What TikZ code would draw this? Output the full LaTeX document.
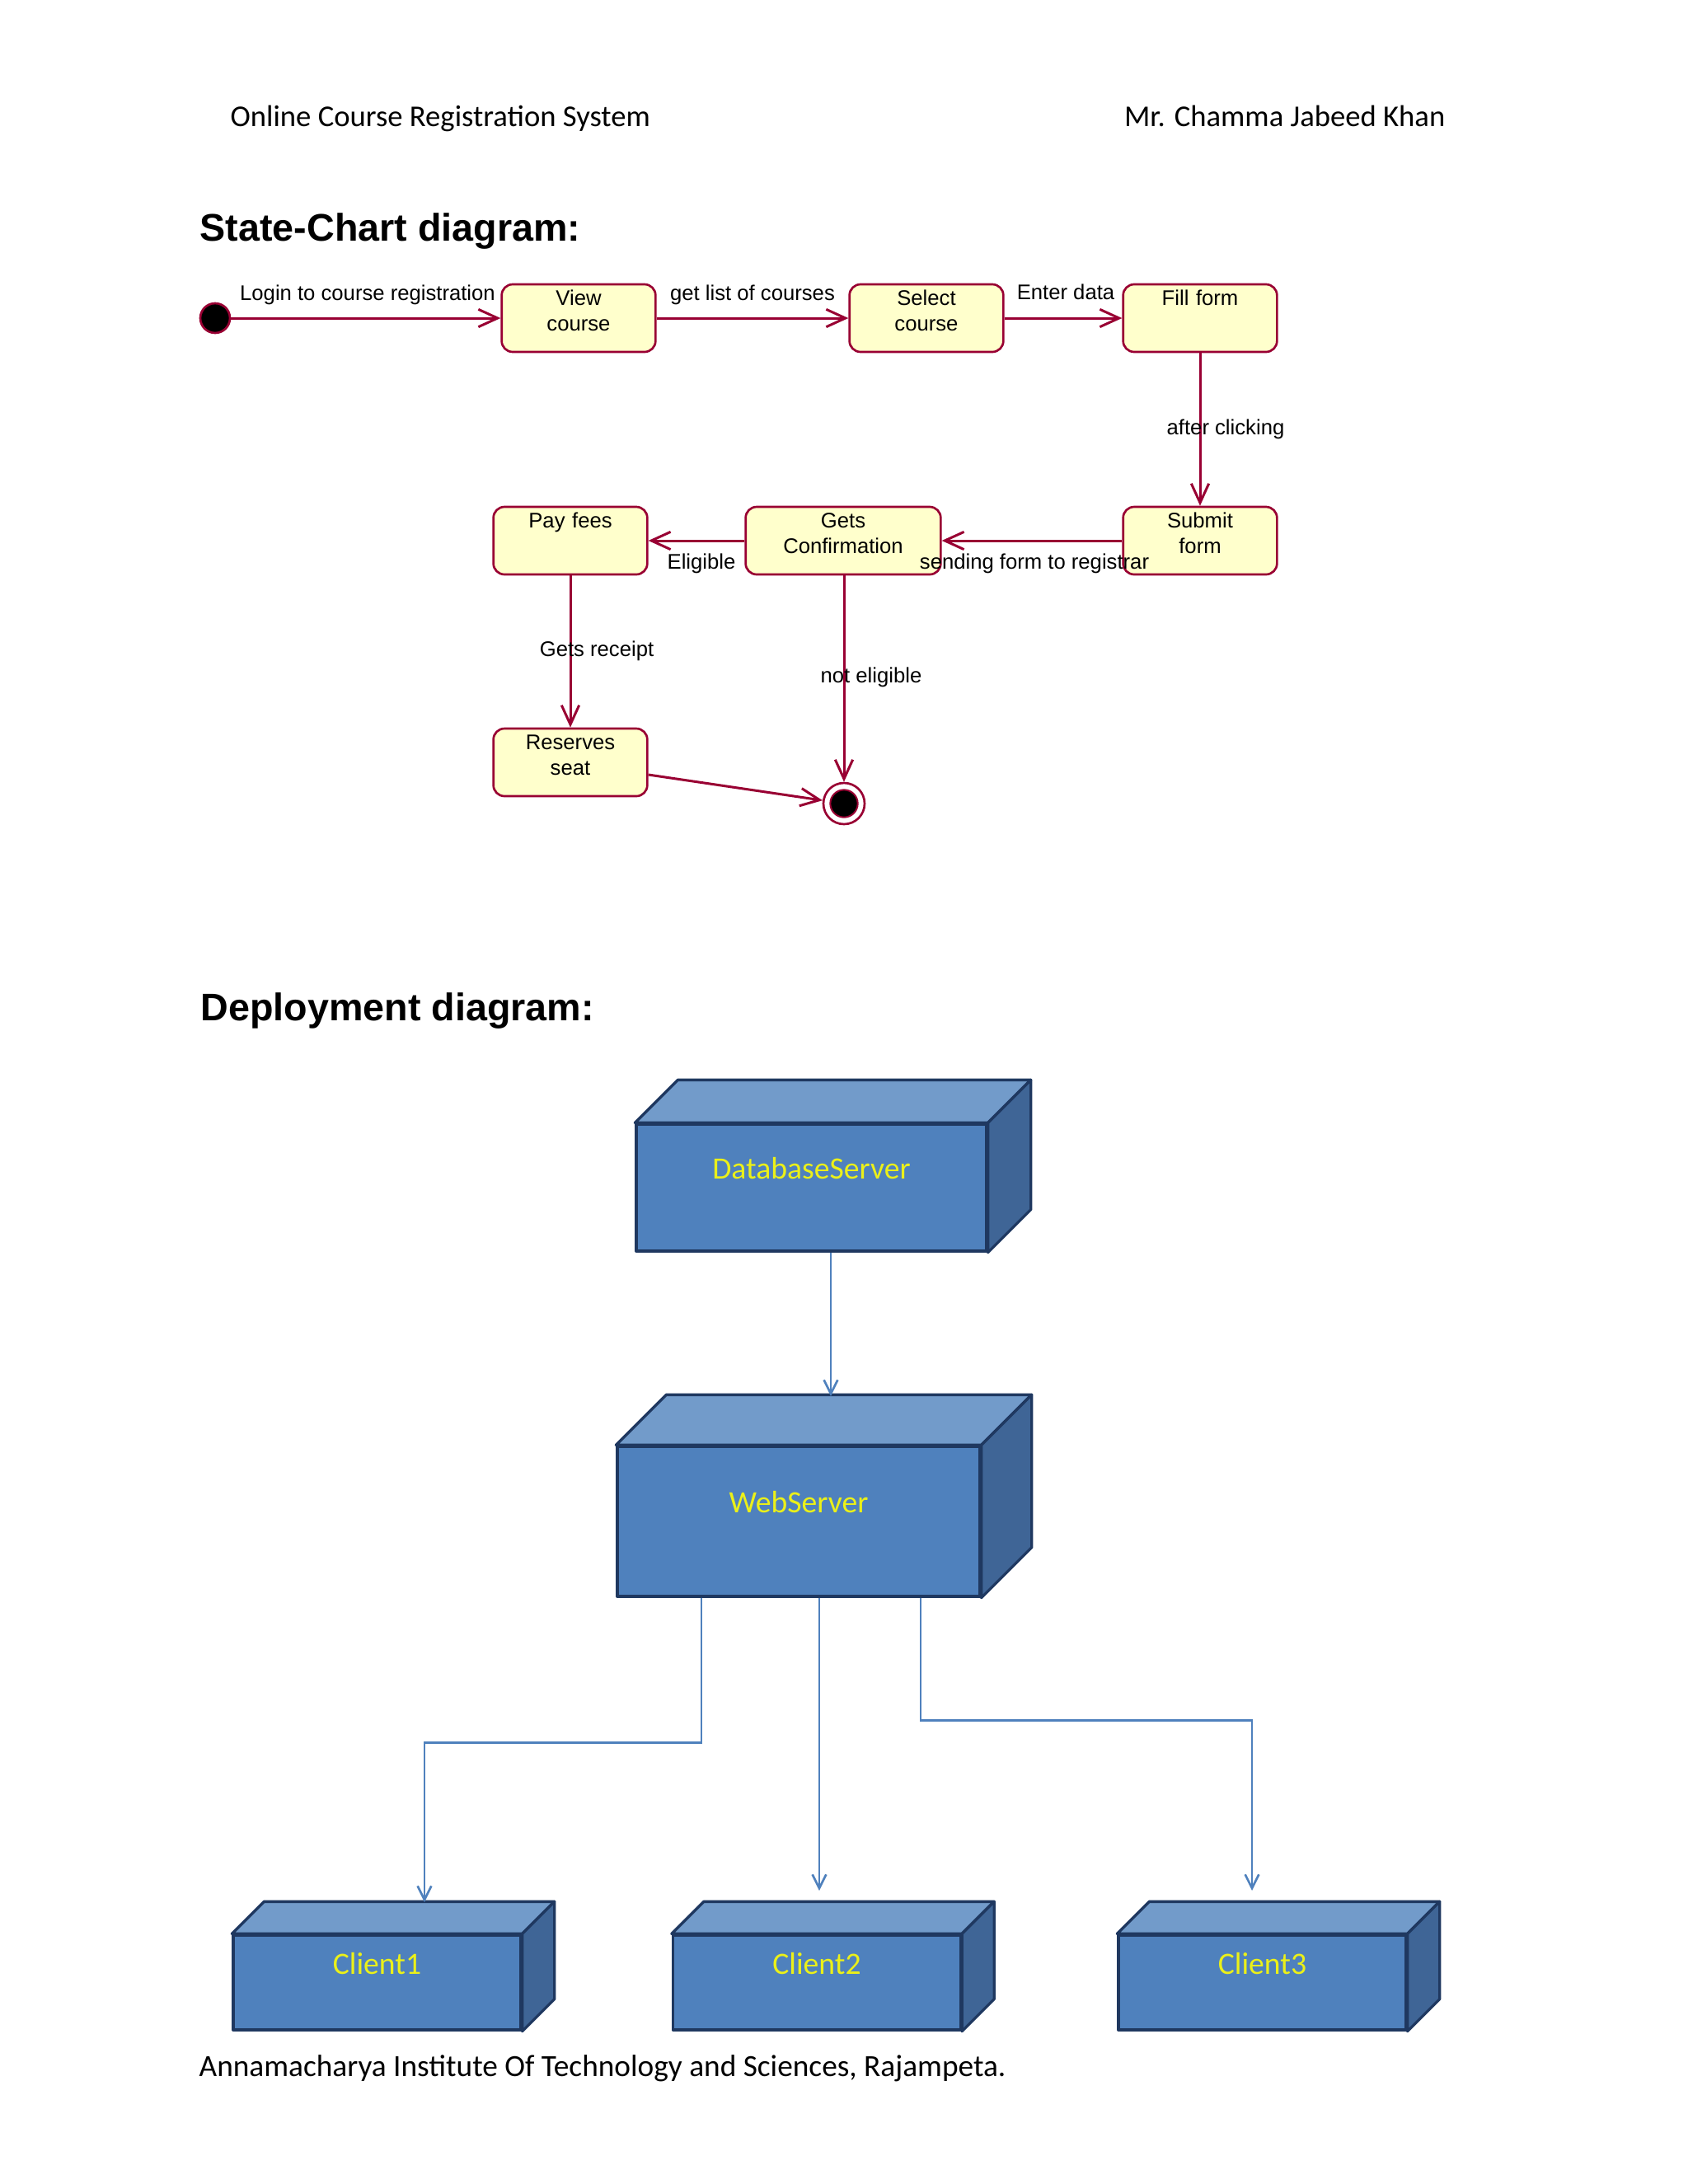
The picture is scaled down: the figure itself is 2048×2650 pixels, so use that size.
\documentclass[tikz,border=0pt]{standalone}
\usepackage{fontspec}
\setmainfont{Carlito}
\newfontfamily\arialfont{Liberation Sans}
\usetikzlibrary{arrows.meta,calc}

\definecolor{umlred}{RGB}{153,0,51}
\definecolor{umlyellow}{RGB}{255,255,204}
\definecolor{devfront}{RGB}{79,129,189}
\definecolor{devtop}{RGB}{114,155,202}
\definecolor{devside}{RGB}{63,101,150}
\definecolor{devedge}{RGB}{31,56,96}
\definecolor{devtext}{RGB}{235,240,25}
\definecolor{devline}{RGB}{79,129,189}

\tikzset{
  state/.style={rectangle, rounded corners=4pt, draw=umlred, line width=0.8pt, fill=umlyellow,
    font=\arialfont\fontsize{7.7}{9.2}\selectfont, align=center, text width=54pt,
    inner xsep=1pt, inner ysep=0pt, text height=7.65pt, text depth=16.95pt},
  initstate/.style={circle, draw=umlred, line width=0.8pt, fill=black, minimum size=10.8pt, inner sep=0pt},
  endstate/.style={circle, draw=umlred, line width=0.8pt, fill=white, minimum size=15pt, inner sep=0pt},
  trans/.style={draw=umlred, line width=0.9pt, -{Straight Barb[length=7pt,width=6.4pt]}},
  lbl/.style={font=\arialfont\fontsize{7.7}{9.2}\selectfont, anchor=base, inner sep=0pt},
  dev/.style={rectangle, draw=devedge, line width=1pt, line join=round, fill=devfront, text=devtext,
    font=\fontsize{11.3}{13}\selectfont, inner sep=0pt, text height=7.5pt, text depth=13.6pt},
  dep/.style={draw=devline, line width=0.8pt, -{Straight Barb[length=5pt,width=5pt]}},
  heading/.style={font=\arialfont\bfseries\fontsize{14}{16}\selectfont, anchor=base west, inner sep=0pt},
  pagetext/.style={font=\fontsize{11}{13}\selectfont, inner sep=0pt},
}

% top and side faces of a deployment node
\newcommand{\devbox}[2]{%
  \draw[devedge, line width=1pt, line join=round, fill=devtop] (#1.north west) -- ++(#2,-#2) -- ($(#1.north east)+(#2,-#2)$) -- (#1.north east) -- cycle;
  \draw[devedge, line width=1pt, line join=round, fill=devside] (#1.north east) -- ++(#2,-#2) -- ($(#1.south east)+(#2,-#2)$) -- (#1.south east) -- cycle;
}

\begin{document}
\begin{tikzpicture}[x=0.3pt, y=-0.3pt]
  \fill[white] (0,0) rectangle (2048,2650);
  \useasboundingbox (0,0) rectangle (2048,2650);

  % page header and footer
  \node[pagetext, anchor=base west] (hdrleft) at (279,153) {Online Course Registration System};
  \node[pagetext, anchor=base east] (hdrright) at (1754,153) {Mr. Chamma Jabeed Khan};
  \node[pagetext, anchor=base west, font=\fontsize{11.2}{13}\selectfont] (footer) at (241,2519) {Annamacharya Institute Of Technology and Sciences, Rajampeta.};

  % State-chart diagram
  \node[heading] (statehead) at (242,292) {State-Chart diagram:};

  \node[initstate] (init) at (261,386) {};
  \node[state] (view) at (702,386) {View\\course};
  \node[state] (select) at (1124,386) {Select\\course};
  \node[state] (fillform) at (1456,386) {Fill form};
  \node[state] (submit) at (1456,656) {Submit\\form};
  \node[state, text width=69pt] (confirm) at (1023,656) {Gets\\Confirmation};
  \node[state] (payfees) at (692,656) {Pay fees};
  \node[state] (reserve) at (692,925) {Reserves\\seat};
  \node[endstate] (final) at (1024,975) {};
  \filldraw[fill=black, draw=umlred, line width=0.6pt] (final) circle (5pt);

  \draw[trans] (init) -- (view);
  \draw[trans] (view) -- (select);
  \draw[trans] (select) -- (fillform);
  \draw[trans] (fillform) -- (submit);
  \draw[trans] (submit) -- (confirm);
  \draw[trans] (confirm) -- (payfees);
  \draw[trans] (payfees) -- (reserve);
  \draw[trans] (confirm.south -| final) -- (final);
  \draw[trans] ([yshift=-4.5pt]reserve.east) -- (final);

  \node[lbl] (llogin) at (446,364) {Login to course registration};
  \node[lbl] (lget) at (913,364) {get list of courses};
  \node[lbl] (lenter) at (1293,363) {Enter data};
  \node[lbl] (lafter) at (1487,527) {after clicking};
  \node[lbl] (lsend) at (1255,690) {sending form to registrar};
  \node[lbl] (lelig) at (851,690) {Eligible};
  \node[lbl] (lreceipt) at (724,796) {Gets receipt};
  \node[lbl] (lnot) at (1057,828) {not eligible};

  % Deployment diagram
  \node[heading] (dephead) at (243,1238) {Deployment diagram:};

  \node[dev, minimum width=127.5pt, minimum height=46.2pt] (db) at (984.5,1441) {DatabaseServer};
  \devbox{db}{52}
  \node[dev, minimum width=132pt, minimum height=54.6pt] (web) at (969,1846) {WebServer};
  \devbox{web}{61}
  \foreach \i/\x in {1/457.5, 2/991, 3/1531.5} {
    \node[dev, minimum width=104.7pt, minimum height=34.5pt] (client\i) at (\x,2405.5) {Client\i};
    \devbox{client\i}{39}
  }

  \coordinate (webin) at (1008,1694);
  \coordinate (c1in) at (515,2308);
  \coordinate (c2in) at (994,2294);
  \coordinate (c3in) at (1519,2294);

  \draw[dep] (db.south -| webin) -- (webin);
  \draw[dep] ([xshift=-35.4pt]web.south) -- ++(0,176) -| (c1in);
  \draw[dep] (web.south -| c2in) -- (c2in);
  \draw[dep] ([xshift=44.4pt]web.south) -- ++(0,149) -| (c3in);
\end{tikzpicture}
\end{document}
